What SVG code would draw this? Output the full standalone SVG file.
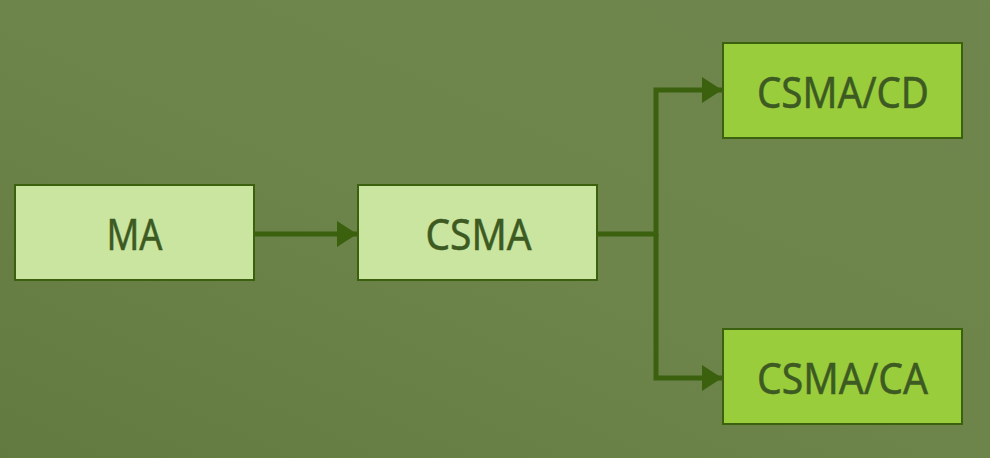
<svg xmlns="http://www.w3.org/2000/svg" width="990" height="458" viewBox="0 0 990 458">
<defs>
<linearGradient id="bg" x1="0" y1="1" x2="1" y2="0">
<stop offset="0" stop-color="#627a40"/>
<stop offset="0.5" stop-color="#6d854a"/>
<stop offset="1" stop-color="#6e864d"/>
</linearGradient>
<marker id="arr" viewBox="0 0 20 26" refX="20" refY="13" markerWidth="20" markerHeight="26" markerUnits="userSpaceOnUse" orient="auto">
<path d="M0,0 L20,13 L0,26 Z" fill="#3b600e"/>
</marker>
</defs>
<style>
.light{fill:#c9e59f;stroke:#3b600e;stroke-width:2}
.bright{fill:#9acd3c;stroke:#3b600e;stroke-width:2}
.lbl{font-family:"Noto Sans","Open Sans",sans-serif;font-size:43px;fill:#3c5a22;stroke:#3c5a22;stroke-width:0.5;text-anchor:middle;dominant-baseline:central}
.conn{fill:none;stroke:#3b600e;stroke-width:5}
</style>
<rect width="990" height="458" fill="url(#bg)"/>
<g id="connectors">
<path class="conn" d="M254,234 H357" marker-end="url(#arr)"/>
<path class="conn" d="M597,234 H656 V90 H722" marker-end="url(#arr)"/>
<path class="conn" d="M656,234 V378 H722" marker-end="url(#arr)"/>
</g>
<g id="MA">
<rect class="light" x="15" y="185" width="239" height="95"/>
<text class="lbl" x="134.5" y="233" textLength="56" lengthAdjust="spacingAndGlyphs">MA</text>
</g>
<g id="CSMA">
<rect class="light" x="358" y="185" width="239" height="95"/>
<text class="lbl" x="478.5" y="233" textLength="106" lengthAdjust="spacingAndGlyphs">CSMA</text>
</g>
<g id="CSMA_CD">
<rect class="bright" x="723" y="43" width="239" height="95"/>
<text class="lbl" x="843" y="91" textLength="172" lengthAdjust="spacingAndGlyphs">CSMA/CD</text>
</g>
<g id="CSMA_CA">
<rect class="bright" x="723" y="329" width="239" height="95"/>
<text class="lbl" x="842.5" y="377" textLength="171" lengthAdjust="spacingAndGlyphs">CSMA/CA</text>
</g>
</svg>
